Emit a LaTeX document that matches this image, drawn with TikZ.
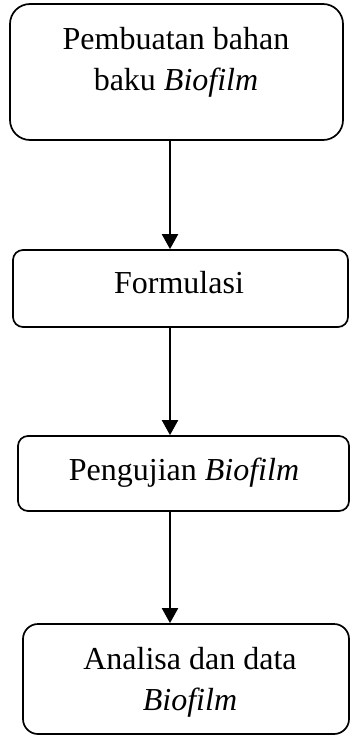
\documentclass[tikz,border=0pt]{standalone}
\usepackage{fontspec}
\setmainfont{Liberation Serif}
\usetikzlibrary{arrows.meta}
\begin{document}
\begin{tikzpicture}[x=1pt,y=1pt,
  box/.style={draw, line width=1.7pt, inner sep=0pt},
  lbl/.style={font=\fontsize{32}{41}\selectfont, align=center, inner sep=0pt, anchor=base},
  conn/.style={line width=2pt, -{Triangle[length=15pt,width=16pt]}}]
\useasboundingbox (0,0) rectangle (350,-736);
\node[box, rounded corners=20pt, minimum width=333pt, minimum height=136pt] (b1) at (176.5,-72) {};
\node[box, rounded corners=10pt, minimum width=335pt, minimum height=77pt] (b2) at (180.5,-288.5) {};
\node[box, rounded corners=10pt, minimum width=331pt, minimum height=75pt] (b3) at (183.5,-473.5) {};
\node[box, rounded corners=15pt, minimum width=326pt, minimum height=110pt] (b4) at (186,-679) {};
\node[lbl] (t1) at (176,-90) {Pembuatan bahan\\baku \textit{Biofilm}};
\node[lbl] (t2) at (179,-293) {Formulasi};
\node[lbl] (t3) at (184,-480) {Pengujian \textit{Biofilm}};
\node[lbl] (t4) at (190,-710) {Analisa dan data\\\textit{Biofilm}};
\coordinate (ax) at (170,0);
\draw[conn] (b1.south -| ax) -- (b2.north -| ax);
\draw[conn] (b2.south -| ax) -- (b3.north -| ax);
\draw[conn] (b3.south -| ax) -- (b4.north -| ax);
\end{tikzpicture}
\end{document}
